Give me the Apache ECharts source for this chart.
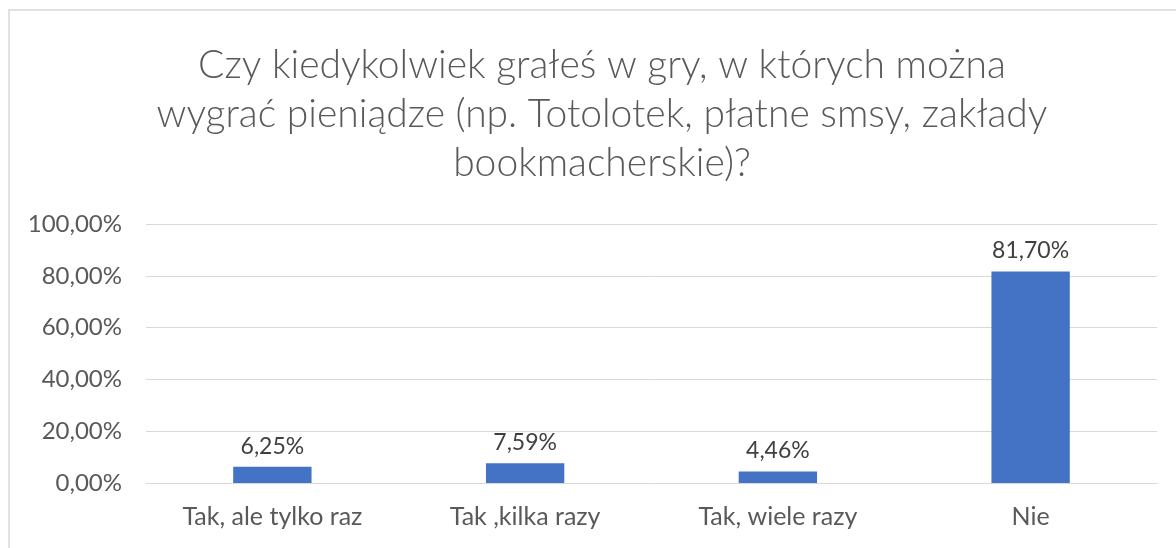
<!DOCTYPE html>
<html>
<head>
<meta charset="utf-8">
<title>Gry na pieniądze</title>
<script src="https://cdn.jsdelivr.net/npm/echarts@6/dist/echarts.min.js"></script>
<style>
  html, body { margin: 0; padding: 0; background: #fff; }
  #frame {
    position: absolute; left: 8px; top: 9px; right: 0; bottom: 0;
    border-left: 2px solid #e1e1e1; border-top: 2px solid #e1e1e1;
  }
  #chart { position: absolute; left: 0; top: 0; width: 1176px; height: 548px; }
</style>
</head>
<body>
<div id="frame"></div>
<div id="chart"></div>
<script>
// dane z wykresu
const categories = ['Tak, ale tylko raz', 'Tak ,kilka razy', 'Tak, wiele razy', 'Nie'];
const values = [6.25, 7.59, 4.46, 81.70];
const titleLines = [
  'Czy kiedykolwiek grałeś w gry, w których można',
  'wygrać pieniądze (np. Totolotek, płatne smsy, zakłady',
  'bookmacherskie)?'
];

const fmt = v => v.toFixed(2).replace('.', ',') + '%';
const font = 'Lato, "Open Sans", sans-serif';

const chart = echarts.init(document.getElementById('chart'));

chart.setOption({
  animation: false,
  title: {
    text: titleLines.join('\n'),
    left: 597,
    top: 36,
    textAlign: 'center',
    textStyle: {
      fontFamily: font,
      fontWeight: 300,
      fontSize: 39,
      lineHeight: 49,
      color: '#595959'
    }
  },
  grid: { left: 146, right: 19, top: 224, bottom: 65, containLabel: false },
  xAxis: {
    type: 'category',
    data: categories,
    axisLine: { lineStyle: { color: '#d9d9d9', width: 1 } },
    axisTick: { show: false },
    axisLabel: { color: '#595959', fontFamily: font, fontSize: 25, margin: 21 }
  },
  yAxis: {
    type: 'value',
    min: 0,
    max: 100,
    interval: 20,
    axisLine: { show: false },
    axisTick: { show: false },
    splitLine: { lineStyle: { color: '#d9d9d9', width: 1 } },
    axisLabel: {
      color: '#595959', fontFamily: font, fontSize: 24, margin: 24,
      formatter: v => fmt(v)
    }
  },
  series: [{
    type: 'bar',
    data: values,
    barWidth: '31%',
    itemStyle: { color: '#4472C4' },
    label: {
      show: true,
      position: 'top',
      distance: 9,
      color: '#404040',
      fontFamily: font,
      fontSize: 23,
      formatter: p => fmt(p.value)
    }
  }]
});
</script>
</body>
</html>
